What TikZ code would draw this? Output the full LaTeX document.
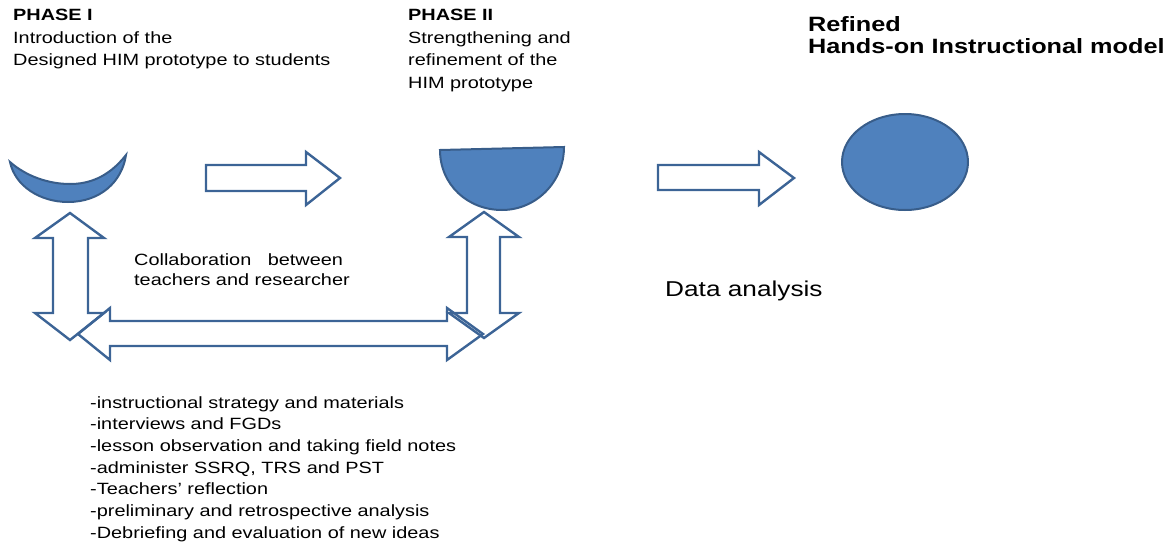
\documentclass[tikz,border=0pt]{standalone}
\usepackage{fontspec}
\setmainfont{Liberation Sans}[FakeStretch=1.22]
\begin{document}
\begin{tikzpicture}[x=1pt,y=-1pt,
  blockarrow/.style={draw=arrowblue,line width=2.4pt,line join=miter,fill=none},
  blueshape/.style={draw=shapeedge,line width=2pt,fill=shapefill},
  txt/.style={inner sep=0pt,anchor=base west,align=left,text=black},
  bodyfont/.style={font=\fontsize{16.3}{22.5}\selectfont},
]
\definecolor{arrowblue}{HTML}{3C6496}
\definecolor{shapeedge}{HTML}{385D8A}
\definecolor{shapefill}{HTML}{4F81BD}
\useasboundingbox (0,0) rectangle (1171,546);

% texts (anchor = baseline of the last line)
\node[txt,bodyfont] (p1) at (13,65.7) {\textbf{PHASE I}\\Introduction of the\\Designed HIM prototype to students};
\node[txt,bodyfont] (p2) at (408,88.2) {\textbf{PHASE II}\\Strengthening and\\refinement of the\\HIM prototype};
\node[txt,font=\fontsize{20.7}{22}\selectfont\bfseries] (ref) at (808,53.7) {Refined\\Hands-on Instructional model};
\node[txt,font=\fontsize{16.3}{20}\selectfont] (col) at (134,285) {Collaboration\hspace{11pt} between\\teachers and researcher};
\node[txt,font=\fontsize{21.5}{24}\selectfont] (da) at (665,296) {Data analysis};
\node[txt,font=\fontsize{16.3}{21.7}\selectfont] (list) at (90,538.2) {-instructional strategy and materials\\-interviews and FGDs\\-lesson observation and taking field notes\\-administer SSRQ, TRS and PST\\-Teachers' reflection\\-preliminary and retrospective analysis\\-Debriefing and evaluation of new ideas};

% shapes
\draw[blueshape] (10,162) .. controls (15,186) and (40,202) .. (68,202)
  .. controls (100,202) and (122,182) .. (126,155)
  .. controls (108,178) and (88,184) .. (70,184)
  .. controls (48,184) and (26,176) .. (10,162) -- cycle;
\draw[blueshape] (440,150) -- (564,147) .. controls (564,182) and (536,210) .. (502,210)
  .. controls (468,210) and (440,185) .. (440,150) -- cycle;
\draw[blueshape] (905,162) ellipse [x radius=63, y radius=48];

% block arrows
\draw[blockarrow] (206,165) -- (306,165) -- (306,152) -- (340,178) -- (306,205) -- (306,191) -- (206,191) -- cycle;
\draw[blockarrow] (658,165) -- (759,165) -- (759,152) -- (794,178) -- (759,205) -- (759,190) -- (658,190) -- cycle;
\draw[blockarrow] (70,213) -- (104,238) -- (88,238) -- (88,313) -- (104,313) -- (70,340) -- (35,313) -- (53,313) -- (53,238) -- (35,238) -- cycle;
\draw[blockarrow] (484,212) -- (519,237) -- (500,237) -- (500,313) -- (519,313) -- (484,338) -- (449,313) -- (467,313) -- (467,237) -- (449,237) -- cycle;
\draw[blockarrow] (78,334) -- (110,308) -- (110,321) -- (447,321) -- (447,308) -- (483,334) -- (447,360) -- (447,346) -- (110,346) -- (110,360) -- cycle;
\end{tikzpicture}
\end{document}
